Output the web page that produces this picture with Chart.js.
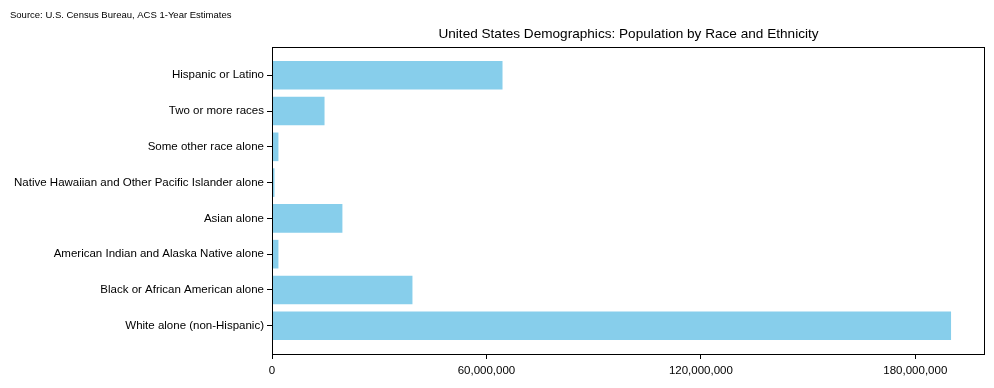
<!DOCTYPE html>
<html>
<head>
<meta charset="utf-8">
<script src="https://cdn.jsdelivr.net/npm/chart.js@4/dist/chart.umd.min.js"></script>
<style>
  html, body { margin: 0; padding: 0; background: #fff; }
  #wrap { width: 994px; height: 388px; position: relative; }
</style>
</head>
<body>
<div id="wrap"><canvas id="c" width="994" height="388"></canvas></div>
<script>
const categories = [
  "White alone (non-Hispanic)",
  "Black or African American alone",
  "American Indian and Alaska Native alone",
  "Asian alone",
  "Native Hawaiian and Other Pacific Islander alone",
  "Some other race alone",
  "Two or more races",
  "Hispanic or Latino"
];
const populations = [190000000, 39300000, 1800000, 19700000, 700000, 1800000, 14700000, 64500000];
const xTicks = [0, 60000000, 120000000, 180000000];
const titleText = "United States Demographics: Population by Race and Ethnicity";
const sourceText = "Source: U.S. Census Bureau, ACS 1-Year Estimates";

const FONT = "'Liberation Sans', Arial, sans-serif";

const framePlugin = {
  id: 'frame',
  afterDraw(chart) {
    const { ctx, chartArea: a } = chart;
    ctx.save();
    ctx.strokeStyle = '#000';
    ctx.lineWidth = 1;
    ctx.strokeRect(Math.round(a.left) + 0.5, Math.round(a.top) + 0.5,
                   Math.round(a.right - a.left) - 1, Math.round(a.bottom - a.top));
    ctx.fillStyle = '#000';
    ctx.textBaseline = 'middle';
    ctx.font = "13.6px " + FONT;
    ctx.textAlign = 'center';
    ctx.fillText(titleText, (a.left + a.right) / 2, 34);
    ctx.font = "9.5px " + FONT;
    ctx.textAlign = 'left';
    ctx.fillText(sourceText, 10, 15);
    ctx.restore();
  }
};

new Chart(document.getElementById('c'), {
  type: 'bar',
  data: {
    datasets: [{
      data: populations.map((v, i) => ({ x: v, y: i })),
      backgroundColor: '#87CEEB',
      borderWidth: 0,
      barPercentage: 0.8,
      categoryPercentage: 1.0
    }]
  },
  options: {
    indexAxis: 'y',
    responsive: false,
    animation: false,
    layout: { padding: { top: 47, right: 9, left: 0, bottom: 0 } },
    plugins: { legend: { display: false }, tooltip: { enabled: false }, title: { display: false } },
    scales: {
      x: {
        type: 'linear',
        min: 0,
        max: 199500000,
        offset: false,
        afterBuildTicks(scale) { scale.ticks = xTicks.map(v => ({ value: v })); },
        afterFit(scale) { scale.height = 34; },
        grid: { offset: false, drawOnChartArea: false, drawTicks: true, tickLength: 5, tickColor: '#000', tickWidth: 1 },
        border: { display: false },
        ticks: {
          color: '#000',
          font: { family: FONT, size: 11.5 },
          padding: 5,
          maxRotation: 0,
          callback: v => Number(v).toLocaleString('en-US')
        }
      },
      y: {
        type: 'linear',
        min: -0.79,
        max: 7.79,
        offset: false,
        afterBuildTicks(scale) { scale.ticks = categories.map((_, i) => ({ value: i })); },
        afterFit(scale) { scale.width = 272; },
        grid: { offset: false, drawOnChartArea: false, drawTicks: true, tickLength: 5, tickColor: '#000', tickWidth: 1 },
        border: { display: false },
        ticks: {
          color: '#000',
          font: { family: FONT, size: 11.5 },
          padding: 3,
          callback: v => categories[v] !== undefined ? categories[v] : ''
        }
      }
    }
  },
  plugins: [framePlugin]
});
</script>
</body>
</html>
